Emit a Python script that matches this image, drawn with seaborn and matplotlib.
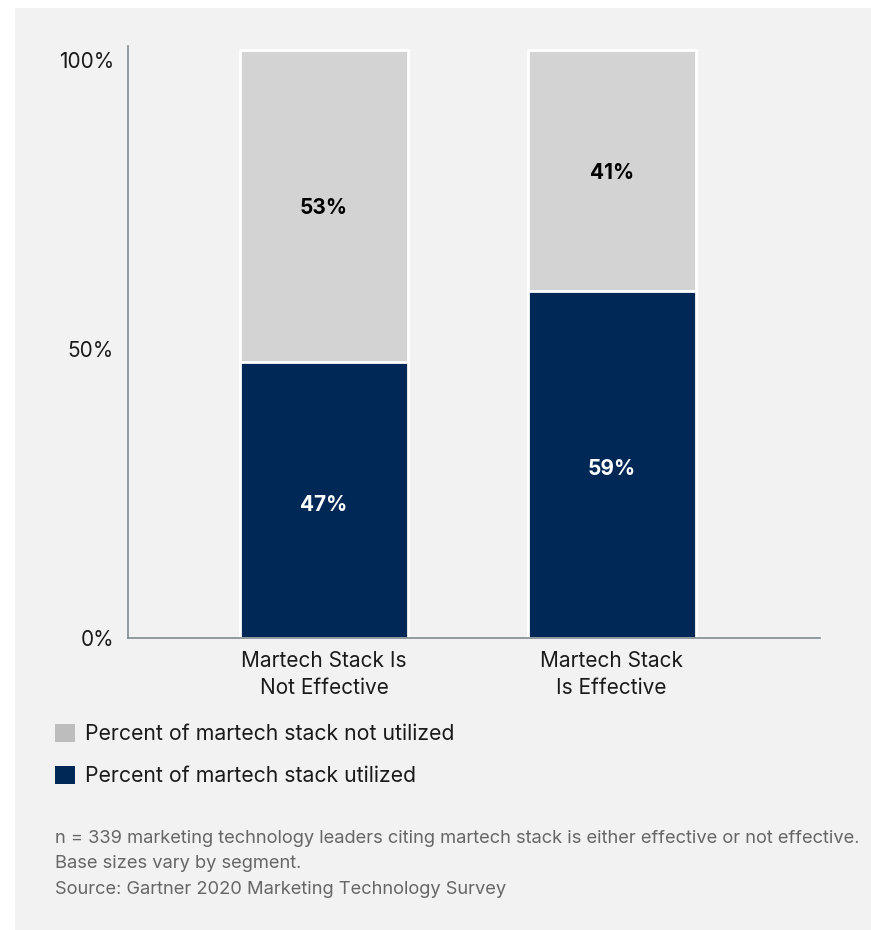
import pandas as pd
import seaborn as sns
import matplotlib.pyplot as plt
from matplotlib.patches import Patch, Rectangle
from matplotlib.transforms import ScaledTranslation

# Data
# =====================================================================
categories = ['Martech Stack Is\nNot Effective', 'Martech Stack\nIs Effective']
utilized = [47, 59]
not_utilized = [53, 41]
yticks = [0, 50, 100]
ytick_labels = ['0%', '50%', '100%']

df = pd.DataFrame({'category': categories, 'utilized': utilized, 'not_utilized': not_utilized})
df['total'] = df['utilized'] + df['not_utilized']

navy = '#002856'
grey = '#d3d3d3'
bg = '#f2f2f2'

# Figure
# =====================================================================
sns.set_theme(style='white')
plt.rcParams['font.family'] = ['Inter', 'DejaVu Sans']

W, H = 871, 930
fig = plt.figure(figsize=(W / 100, H / 100), dpi=100, facecolor='white')

# Grey panel behind everything
fig.patches.append(Rectangle((15 / W, 0), (W - 15) / W, (H - 8) / H,
                             transform=fig.transFigure, facecolor=bg,
                             edgecolor='none', zorder=-10))

ax = fig.add_axes([128 / W, 1 - 638 / H, (820 - 128) / W, (638 - 46) / H])
ax.set_facecolor(bg)
ax.set_zorder(1)

# Stacked bars: total in grey, utilized in navy on top
sns.barplot(data=df, x='category', y='total', color=grey, width=0.584,
            edgecolor='white', linewidth=2, saturation=1, ax=ax)
sns.barplot(data=df, x='category', y='utilized', color=navy, width=0.584,
            edgecolor='white', linewidth=2, saturation=1, ax=ax)

# Segment labels
for i, row in df.iterrows():
    ax.text(i, row['utilized'] / 2 - 0.8, f"{row['utilized']}%", ha='center', va='center',
            color='white', fontsize=15, fontweight='bold')
    ax.text(i, row['utilized'] + row['not_utilized'] / 2 - 0.4, f"{row['not_utilized']}%",
            ha='center', va='center', color='black', fontsize=15, fontweight='bold')

# Axes styling
ax.set_xlim(-0.682, 1.725)
ax.set_ylim(0, 100 * (638 - 46) / (638 - 50))
ax.set_yticks(yticks)
ax.set_yticklabels(ytick_labels)
ax.set_xlabel('')
ax.set_ylabel('')
ax.tick_params(axis='both', length=0, labelsize=15, colors='#1a1a1a')
ax.tick_params(axis='y', pad=10)
ax.tick_params(axis='x', pad=9)
for lab in ax.get_xticklabels():
    lab.set_linespacing(1.45)
# y labels sit slightly below their gridline as in the original
for lab, dy in zip(ax.get_yticklabels(), [0, -5, -10]):
    lab.set_transform(lab.get_transform() + ScaledTranslation(0, dy / 100, fig.dpi_scale_trans))
for s in ['top', 'right']:
    ax.spines[s].set_visible(False)
for s in ['left', 'bottom']:
    ax.spines[s].set_color('#7f8a8f')
    ax.spines[s].set_linewidth(1.2)

# Legend
handles = [Patch(facecolor='#bdbdbd', edgecolor='none', label='Percent of martech stack not utilized'),
           Patch(facecolor=navy, edgecolor='none', label='Percent of martech stack utilized')]
fig.legend(handles=handles, loc='upper left', bbox_to_anchor=(55 / W, 1 - 724 / H),
           frameon=False, fontsize=15.3, handlelength=0.95, handleheight=0.95,
           handletextpad=0.45, labelspacing=1.0, borderaxespad=0, borderpad=0,
           labelcolor='#1a1a1a')

# Notes
notes = ['n = 339 marketing technology leaders citing martech stack is either effective or not effective.',
         'Base sizes vary by segment.',
         'Source: Gartner 2020 Marketing Technology Survey']
for k, line in enumerate(notes):
    fig.text(55 / W, 1 - (838 + 25.5 * k) / H, line, ha='left', va='center',
             fontsize=13.2, color='#666666')

fig.savefig('out.png', dpi=100, facecolor='white')
